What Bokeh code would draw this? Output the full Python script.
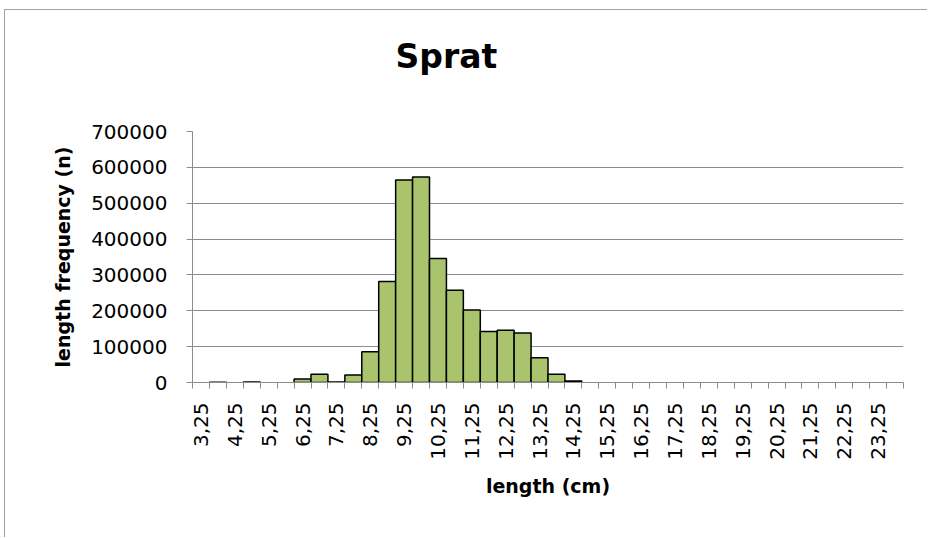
import math
from bokeh.plotting import figure
from bokeh.models import FixedTicker, ColumnDataSource, Title
from bokeh.embed import file_html
from bokeh.resources import INLINE

# ---- data ----
lengths = ["3,25", "3,75", "4,25", "4,75", "5,25", "5,75", "6,25", "6,75",
           "7,25", "7,75", "8,25", "8,75", "9,25", "9,75", "10,25", "10,75",
           "11,25", "11,75", "12,25", "12,75", "13,25", "13,75", "14,25", "14,75",
           "15,25", "15,75", "16,25", "16,75", "17,25", "17,75", "18,25", "18,75",
           "19,25", "19,75", "20,25", "20,75", "21,25", "21,75", "22,25", "22,75",
           "23,25", "23,75"]
frequency = [0, 500, 0, 1500, 0, 0, 10000, 23000,
             1500, 21000, 86000, 282000, 565000, 573000, 346000, 257000,
             202000, 142000, 146000, 138000, 69000, 23000, 4000, 0,
             0, 0, 0, 0, 0, 0, 0, 0,
             0, 0, 0, 0, 0, 0, 0, 0,
             0, 0]
y_ticks = [0, 100000, 200000, 300000, 400000, 500000, 600000, 700000]

n = len(lengths)
# each category occupies two x-units: boundaries on even numbers, centres on odd
xc = [2 * i + 1 for i in range(n)]
line_colors = ["black" if v > 0 else None for v in frequency]
src = ColumnDataSource(dict(x=xc, top=frequency, label=lengths, lc=line_colors))

# canvas starts at page (5, 10): 4/9 px margin + 1 px border line
OX, OY = 5, 10
W, H = 928 - OX, 538 - OY
FL, FR, FT, FB = 192 - OX, 903 - OX, 131 - OY, 382 - OY   # frame edges in canvas px
p = figure(width=W, height=H, x_range=(0, 2 * n), y_range=(0, y_ticks[-1]),
           output_backend="svg", toolbar_location=None, title_location=None,
           min_border_left=FL, min_border_right=W - FR,
           min_border_top=FT, min_border_bottom=H - FB)
p.styles = {"margin-left": "4px", "margin-top": "9px",
            "border-left": "1px solid #a0a0a0", "border-top": "1px solid #a0a0a0"}
p.outline_line_color = None
p.background_fill_color = "white"
p.border_fill_color = "white"

p.vbar(x="x", top="top", width=2, source=src, fill_color="#A9C46C",
       line_color="lc", line_width=1.5)

GRAY = "#8c8c8c"
TICK_FONT = "DejaVu Sans"

# y axis
p.yaxis.ticker = FixedTicker(ticks=y_ticks, minor_ticks=[])
p.yaxis.formatter.use_scientific = False
p.yaxis.axis_line_color = GRAY
p.yaxis.major_tick_line_color = GRAY
p.yaxis.major_tick_out = 6
p.yaxis.major_tick_in = 0
p.yaxis.minor_tick_line_color = None
p.yaxis.major_label_text_font = TICK_FONT
p.yaxis.major_label_text_font_size = "20px"
p.yaxis.major_label_text_color = "black"
p.yaxis.major_label_standoff = 19
p.yaxis.axis_label = "length frequency (n)"
p.yaxis.axis_label_text_font = "DejaVu Sans"
p.yaxis.axis_label_text_font_style = "bold"
p.yaxis.axis_label_text_font_size = "19px"
p.yaxis.axis_label_text_color = "black"
p.yaxis.axis_label_standoff = 14

# x axis: labels on every other category centre, tick marks on boundaries
label_pos = [xc[i] for i in range(0, n, 2)]
p.xaxis.ticker = FixedTicker(ticks=label_pos, minor_ticks=list(range(0, 2 * n + 1, 2)))
p.xaxis.major_label_overrides = {xc[i]: lengths[i] for i in range(0, n, 2)}
p.xaxis.axis_line_color = GRAY
p.xaxis.major_tick_line_color = None
p.xaxis.major_tick_out = 0
p.xaxis.major_tick_in = 0
p.xaxis.minor_tick_line_color = GRAY
p.xaxis.minor_tick_out = 6
p.xaxis.minor_tick_in = 0
p.xaxis.major_label_orientation = math.pi / 2
p.xaxis.major_label_text_font = TICK_FONT
p.xaxis.major_label_text_font_size = "20px"
p.xaxis.major_label_text_color = "black"
p.xaxis.major_label_standoff = 14
p.xaxis.axis_label = "length (cm)"
p.xaxis.axis_label_text_font = "DejaVu Sans"
p.xaxis.axis_label_text_font_style = "bold"
p.xaxis.axis_label_text_font_size = "19px"
p.xaxis.axis_label_text_color = "black"
p.xaxis.axis_label_standoff = 12

# grid
p.xgrid.visible = False
p.ygrid.ticker = FixedTicker(ticks=y_ticks, minor_ticks=[])
p.ygrid.grid_line_color = GRAY
p.ygrid.grid_line_width = 1

# title: a blank spacer next to the frame, then the title above it
p.add_layout(Title(text=" ", text_font_size="1px", standoff=53), "above")
p.add_layout(Title(text="Sprat", text_font="DejaVu Sans", text_font_style="bold",
                   text_font_size="33px", text_color="black", align="left",
                   vertical_align="bottom", offset=203, standoff=0), "above")

open("out.html", "w").write(file_html(p, INLINE))
